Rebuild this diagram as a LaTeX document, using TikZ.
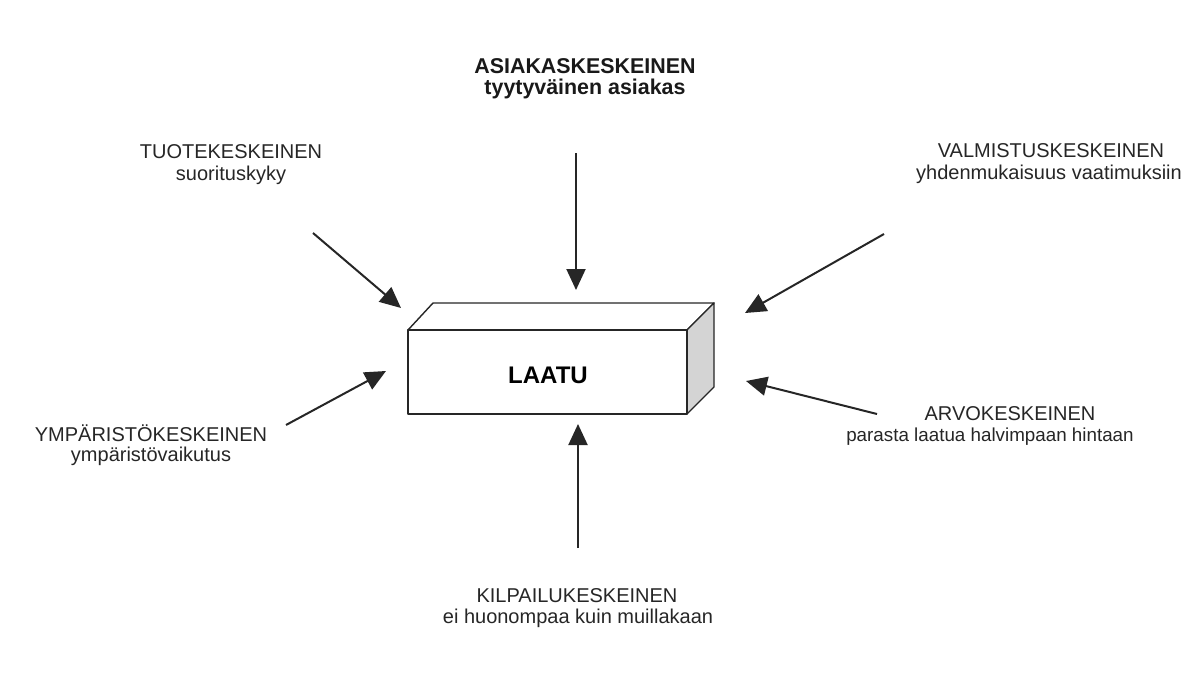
\documentclass[tikz,border=0pt]{standalone}
\usepackage{fontspec}
\setmainfont{Liberation Sans}
\usetikzlibrary{arrows.meta}
\tikzset{
  lbl/.style={inner sep=0pt, font=\fontsize{20}{23}\selectfont, text=black!85},
  lblb/.style={inner sep=0pt, font=\fontsize{21.4}{24}\selectfont\bfseries, text=black!90},
  edgeline/.style={line width=1.4pt, line join=round, draw=black!85},
  arr/.style={line width=2pt, draw=black!85, -{Triangle[length=21pt, width=19pt]}},
}
\begin{document}
\begin{tikzpicture}[x=1pt, y=-1pt]
\useasboundingbox (0,0) rectangle (1187,688);
% box
\coordinate (fa) at (408,330);
\coordinate (fb) at (687,330);
\coordinate (fc) at (687,414);
\coordinate (fd) at (408,414);
\coordinate (ba) at (433,303);
\coordinate (bb) at (714,303);
\coordinate (bc) at (714,387);
\draw[edgeline, fill=white] (fa) -- (ba) -- (bb) -- (fb) -- cycle;
\draw[edgeline, fill=black!17] (fb) -- (bb) -- (bc) -- (fc) -- cycle;
\draw[edgeline, fill=white] (fa) rectangle (fc);
\node[inner sep=0pt, font=\fontsize{24}{26}\selectfont\bfseries] (laatu) at (548,375) {LAATU};

% labels
\node[lblb] (asiaT) at (585,66) {ASIAKASKESKEINEN};
\node[lblb] (asiaS) at (585,89) {tyytyväinen asiakas};
\node[lbl] (tuoT) at (231,152) {TUOTEKESKEINEN};
\node[lbl] (tuoS) at (231,175) {suorituskyky};
\node[lbl] (valT) at (1051,151) {VALMISTUSKESKEINEN};
\node[lbl] (valS) at (1049,174) {yhdenmukaisuus vaatimuksiin};
\node[lbl] (ympT) at (151,433) {YMPÄRISTÖKESKEINEN};
\node[lbl] (ympS) at (151,456) {ympäristövaikutus};
\node[lbl] (arvT) at (1010,414) {ARVOKESKEINEN};
\node[lbl, font=\fontsize{18.8}{22}\selectfont] (arvS) at (990,437) {parasta laatua halvimpaan hintaan};
\node[lbl] (kilT) at (577,596) {KILPAILUKESKEINEN};
\node[lbl] (kilS) at (578,618) {ei huonompaa kuin muillakaan};

% arrow ends
\coordinate (tTop) at (576,153);   \coordinate (hTop) at (576,290);
\coordinate (tBot) at (578,548);   \coordinate (hBot) at (578,424);
\coordinate (tUL) at (313,233);    \coordinate (hUL) at (401,308);
\coordinate (tUR) at (884,234);    \coordinate (hUR) at (745,313);
\coordinate (tLL) at (286,425);    \coordinate (hLL) at (386,371);
\coordinate (tLR) at (877,414);    \coordinate (hLR) at (746,381);
\draw[arr] (tTop) -- (hTop);
\draw[arr] (tBot) -- (hBot);
\draw[arr] (tUL) -- (hUL);
\draw[arr] (tUR) -- (hUR);
\draw[arr] (tLL) -- (hLL);
\draw[arr] (tLR) -- (hLR);
\end{tikzpicture}
\end{document}
